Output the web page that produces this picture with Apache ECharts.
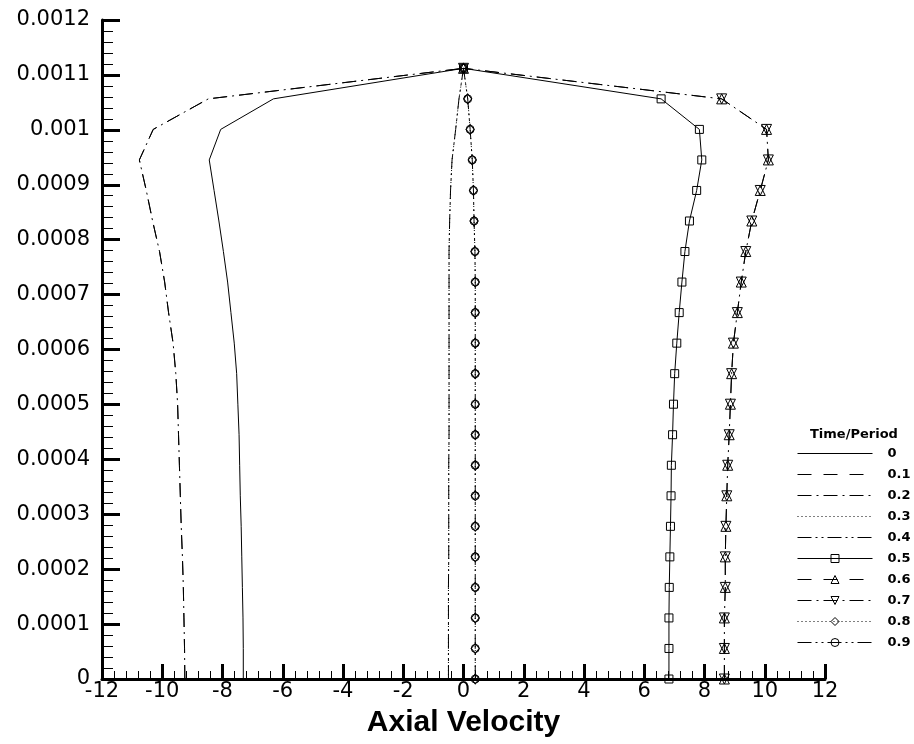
<!DOCTYPE html>
<html><head><meta charset="utf-8">
<script src="https://cdn.jsdelivr.net/npm/echarts@6/dist/echarts.min.js"></script>
<style>html,body{margin:0;padding:0;background:#fff}#c{width:914px;height:744px}</style>
</head><body><div id="c"></div>
<script>
// radial position (y) levels
const yLevels = [0, 0.0000556, 0.0001112, 0.0001668, 0.0002224, 0.000278, 0.0003336, 0.0003892,
  0.0004448, 0.0005004, 0.000556, 0.0006116, 0.0006672, 0.0007228, 0.0007784, 0.000834,
  0.0008896, 0.0009452, 0.0010008, 0.0010564, 0.001112];

// axial velocity at each time/period
const t00 = [-7.31,-7.31,-7.32,-7.34,-7.36,-7.38,-7.41,-7.43,-7.45,-7.49,-7.53,-7.61,-7.72,-7.83,-7.97,-8.12,-8.28,-8.44,-8.06,-6.31,0];
const t01 = [-9.25,-9.26,-9.28,-9.30,-9.33,-9.37,-9.40,-9.43,-9.46,-9.49,-9.55,-9.64,-9.79,-9.92,-10.09,-10.32,-10.53,-10.76,-10.30,-8.47,0];
const t02 = [-9.25,-9.26,-9.28,-9.30,-9.33,-9.37,-9.40,-9.43,-9.46,-9.49,-9.55,-9.64,-9.79,-9.92,-10.09,-10.32,-10.53,-10.76,-10.30,-8.47,0];
const t03 = [-0.50,-0.50,-0.50,-0.50,-0.49,-0.49,-0.49,-0.49,-0.48,-0.48,-0.48,-0.48,-0.48,-0.48,-0.48,-0.46,-0.43,-0.38,-0.26,-0.15,0];
const t04 = [-0.50,-0.50,-0.50,-0.50,-0.49,-0.49,-0.49,-0.49,-0.48,-0.48,-0.48,-0.48,-0.48,-0.48,-0.48,-0.46,-0.43,-0.38,-0.26,-0.15,0];
const t05 = [6.82,6.82,6.82,6.83,6.85,6.87,6.89,6.90,6.94,6.97,7.01,7.08,7.16,7.25,7.35,7.50,7.74,7.91,7.83,6.56,0];
const t06 = [8.66,8.66,8.66,8.69,8.69,8.71,8.74,8.77,8.82,8.86,8.90,8.96,9.09,9.22,9.37,9.57,9.85,10.12,10.06,8.57,0];
const t07 = [8.66,8.66,8.66,8.69,8.69,8.71,8.74,8.77,8.82,8.86,8.90,8.96,9.09,9.22,9.37,9.57,9.85,10.12,10.06,8.57,0];
const t08 = [0.39,0.39,0.39,0.39,0.39,0.39,0.39,0.39,0.39,0.39,0.39,0.39,0.39,0.39,0.38,0.35,0.33,0.29,0.22,0.14,0];
const t09 = [0.39,0.39,0.39,0.39,0.39,0.39,0.39,0.39,0.39,0.39,0.39,0.39,0.39,0.39,0.38,0.35,0.33,0.29,0.22,0.14,0];

const seriesNames = ['0','0.1','0.2','0.3','0.4','0.5','0.6','0.7','0.8','0.9'];
const seriesValues = [t00,t01,t02,t03,t04,t05,t06,t07,t08,t09];
const xTickLabels = ['-12','-10','-8','-6','-4','-2','0','2','4','6','8','10','12'];
const yTickLabels = ['0','0.0001','0.0002','0.0003','0.0004','0.0005','0.0006','0.0007','0.0008','0.0009','0.001','0.0011','0.0012'];

// styles
const DASH = [14,12], DASHDOT = [14,5,2,5], DOT = [1,3], DASHDOTDOT = [14,4,2,4,2,4];
const lineTypes = ['solid', DASH, DASHDOT, DOT, DASHDOTDOT, 'solid', DASH, DASHDOT, DOT, DASHDOTDOT];
const symbols = ['none','none','none','none','none','rect','triangle','triangle','diamond','circle'];
const symbolSizes = [8,8,8,8,8,8,10,10,[8,10],8];
const rotations = [0,0,0,0,0,0,0,180,0,0];

const chart = echarts.init(document.getElementById('c'), null, {renderer:'canvas'});
const labelFont = 'DejaVu Sans';

const series = seriesNames.map((name, i) => ({
  type: 'line',
  name: name,
  data: seriesValues[i].map((x, k) => [x, yLevels[k]]),
  symbol: symbols[i],
  symbolSize: symbolSizes[i],
  symbolRotate: rotations[i],
  showSymbol: symbols[i] !== 'none',
  showAllSymbol: true,
  lineStyle: {color:'#000', width:1, type: lineTypes[i]},
  itemStyle: {color:'rgba(255,255,255,0)', borderColor:'#000', borderWidth:1},
  emphasis: {disabled:true},
  silent: true,
  animation: false,
  z: 2 + i
}));

chart.setOption({
  animation: false,
  backgroundColor: '#fff',
  grid: {left:102, right:89, top:20, bottom:65, containLabel:false},
  title: {
    text: 'Time/Period', left: 810, top: 428, padding: 0,
    textStyle: {fontFamily: labelFont, fontWeight:'bold', fontSize:13, color:'#000'}
  },
  legend: {
    orient: 'vertical', left: 797, top: 447, padding: 0,
    itemWidth: 75, itemHeight: 10, itemGap: 8, selectedMode: false,
    textStyle: {fontFamily: labelFont, fontWeight:'bold', fontSize:13, color:'#000', lineHeight:13, padding:[0,0,0,10]},
    data: seriesNames.map((n, i) => ({
      name: n,
      itemStyle: {color:'rgba(255,255,255,0)', borderColor:'#000', borderWidth:1, opacity: symbols[i]==='none' ? 0 : 1},
      lineStyle: {color:'#000', width:1, type: lineTypes[i]}
    }))
  },
  xAxis: {
    type:'value', min:-12, max:12, interval:2,
    axisLine:{show:true, onZero:false, lineStyle:{color:'#000', width:3}},
    axisTick:{show:true, inside:true, length:15, lineStyle:{color:'#000', width:3}},
    minorTick:{show:true, splitNumber:5, length:8, lineStyle:{color:'#000', width:1}},
    splitLine:{show:false}, minorSplitLine:{show:false},
    axisLabel:{color:'#000', fontFamily:labelFont, fontSize:21, margin:2,
      formatter: v => xTickLabels[Math.round((v + 12) / 2)]},
    name:'Axial Velocity', nameLocation:'middle', nameGap:29,
    nameTextStyle:{fontFamily:'Liberation Sans', fontWeight:'bold', fontSize:30, color:'#000'}
  },
  yAxis: {
    type:'value', min:0, max:0.0012, interval:0.0001,
    axisLine:{show:true, onZero:false, lineStyle:{color:'#000', width:3}},
    axisTick:{show:true, inside:true, length:18, lineStyle:{color:'#000', width:3}},
    minorTick:{show:true, splitNumber:5, length:11, lineStyle:{color:'#000', width:1}},
    splitLine:{show:false}, minorSplitLine:{show:false},
    axisLabel:{color:'#000', fontFamily:labelFont, fontSize:21, margin:12,
      formatter: v => yTickLabels[Math.round(v / 0.0001)]}
  },
  series: series
});
</script></body></html>
